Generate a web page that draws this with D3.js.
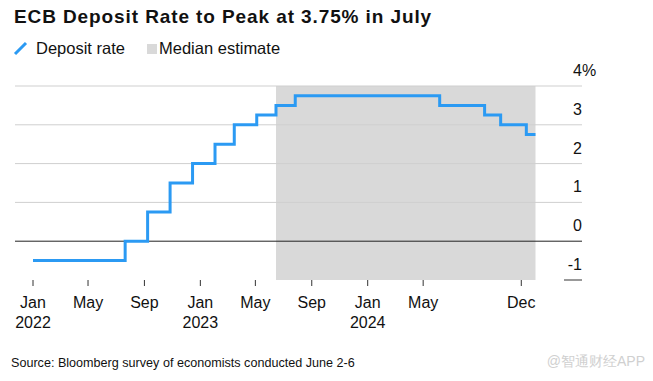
<!DOCTYPE html>
<meta charset="utf-8" />
<style>
    body { margin: 0; background: #fff; }
    text { font-family: "Liberation Sans", Arial, sans-serif; fill: #111; }
</style>
<title>ECB Deposit Rate</title>
<body></body>
<script src="https://d3js.org/d3.v7.min.js"></script>
<script>

    // ECB deposit rate, actual + median estimate (step changes at policy meetings)
    var rateDates = ["2022-01-01", "2022-07-21", "2022-09-08", "2022-10-27", "2022-12-15",
        "2023-02-02", "2023-03-16", "2023-05-04", "2023-06-15", "2023-07-27",
        "2024-06-06", "2024-09-12", "2024-10-17", "2024-12-12", "2025-01-01"];
    var rateValues = [-0.5, 0, 0.75, 1.5, 2.0, 2.5, 3.0, 3.25, 3.5, 3.75, 3.5, 3.25, 3.0, 2.75, 2.75];

    // shaded median-estimate window
    var estimateStart = "2023-06-15",
        estimateEnd = "2025-01-01";

    var xTickDates = ["2022-01-01", "2022-05-01", "2022-09-01", "2023-01-01", "2023-05-01",
        "2023-09-01", "2024-01-01", "2024-05-01", "2024-12-01"];
    var xTickMonths = ["Jan", "May", "Sep", "Jan", "May", "Sep", "Jan", "May", "Dec"];
    var xTickYears = ["2022", "", "", "2023", "", "", "2024", "", ""];
    var yTicks = [-1, 0, 1, 2, 3, 4];

    var parse = d3.timeParse("%Y-%m-%d");
    var data = rateDates.map(function (d, i) { return { date: parse(d), value: rateValues[i] }; });

    var svgWidth = 653, svgHeight = 381;
    var svg = d3.select("body").append("svg")
        .attr("width", svgWidth)
        .attr("height", svgHeight);

    var x = d3.scaleTime()
        .domain([parse("2022-01-01"), parse("2025-01-01")])
        .range([33, 535.5]);
    var y = d3.scaleLinear()
        .domain([-1, 4])
        .range([280, 86]);

    var gridLeft = 15, gridRight = 582;

    // title + legend
    svg.append("text")
        .attr("x", 14).attr("y", 23)
        .style("font-size", "19px").style("font-weight", "bold")
        .style("letter-spacing", "0.9px")
        .text("ECB Deposit Rate to Peak at 3.75% in July");

    svg.append("line")
        .attr("x1", 15).attr("y1", 54).attr("x2", 26).attr("y2", 43)
        .attr("stroke", "#2b9af3").attr("stroke-width", 3);
    svg.append("text").attr("x", 36).attr("y", 54)
        .style("font-size", "16.5px").text("Deposit rate");
    svg.append("rect")
        .attr("x", 147).attr("y", 44).attr("width", 10).attr("height", 10)
        .attr("fill", "#d9d9d9");
    svg.append("text").attr("x", 159).attr("y", 54)
        .style("font-size", "16.5px").text("Median estimate");

    // shaded estimate area
    svg.append("rect")
        .attr("x", x(parse(estimateStart)))
        .attr("y", y(4))
        .attr("width", x(parse(estimateEnd)) - x(parse(estimateStart)))
        .attr("height", y(-1) - y(4))
        .attr("fill", "#d9d9d9");

    // gridlines
    svg.selectAll(".grid")
        .data(yTicks.filter(function (d) { return d > -1; }))
        .enter().append("line")
        .attr("class", "grid")
        .attr("x1", gridLeft).attr("x2", gridRight)
        .attr("y1", function (d) { return y(d); })
        .attr("y2", function (d) { return y(d); })
        .attr("stroke", function (d) { return d === 0 ? "#222" : "#cfcfcf"; })
        .attr("stroke-width", 1);

    // short base marker at -1
    svg.append("line")
        .attr("x1", 564).attr("x2", gridRight)
        .attr("y1", y(-1)).attr("y2", y(-1))
        .attr("stroke", "#777").attr("stroke-width", 1.5);

    // y labels
    svg.selectAll(".ylab")
        .data(yTicks)
        .enter().append("text")
        .attr("class", "ylab")
        .attr("x", gridRight)
        .attr("y", function (d) { return y(d) - 10; })
        .attr("text-anchor", "end")
        .style("font-size", "16px")
        .text(function (d) { return d; });
    svg.append("text")
        .attr("x", gridRight).attr("y", y(4) - 10)
        .style("font-size", "16px")
        .text("%");

    // step line
    var line = d3.line()
        .x(function (d) { return x(d.date); })
        .y(function (d) { return y(d.value); })
        .curve(d3.curveStepAfter);

    svg.append("path")
        .datum(data)
        .attr("d", line)
        .attr("fill", "none")
        .attr("stroke", "#2b9af3")
        .attr("stroke-width", 3);

    // x ticks
    var xt = svg.selectAll(".xtick")
        .data(xTickDates)
        .enter().append("g")
        .attr("class", "xtick")
        .attr("transform", function (d) { return "translate(" + x(parse(d)) + ",0)"; });
    xt.append("line")
        .attr("y1", 280).attr("y2", 286)
        .attr("stroke", "#333");
    xt.append("text")
        .attr("y", 308).attr("text-anchor", "middle")
        .style("font-size", "16px")
        .text(function (d, i) { return xTickMonths[i]; });
    xt.append("text")
        .attr("y", 328).attr("text-anchor", "middle")
        .style("font-size", "16px")
        .text(function (d, i) { return xTickYears[i]; });

    // source + watermark
    svg.append("text")
        .attr("x", 11).attr("y", 367)
        .style("font-size", "12.6px")
        .text("Source: Bloomberg survey of economists conducted June 2-6");
    svg.append("text")
        .attr("x", 645).attr("y", 366)
        .attr("text-anchor", "end")
        .style("font-size", "14px")
        .style("fill", "#d0d0d0")
        .text("@智通财经APP");

</script>
